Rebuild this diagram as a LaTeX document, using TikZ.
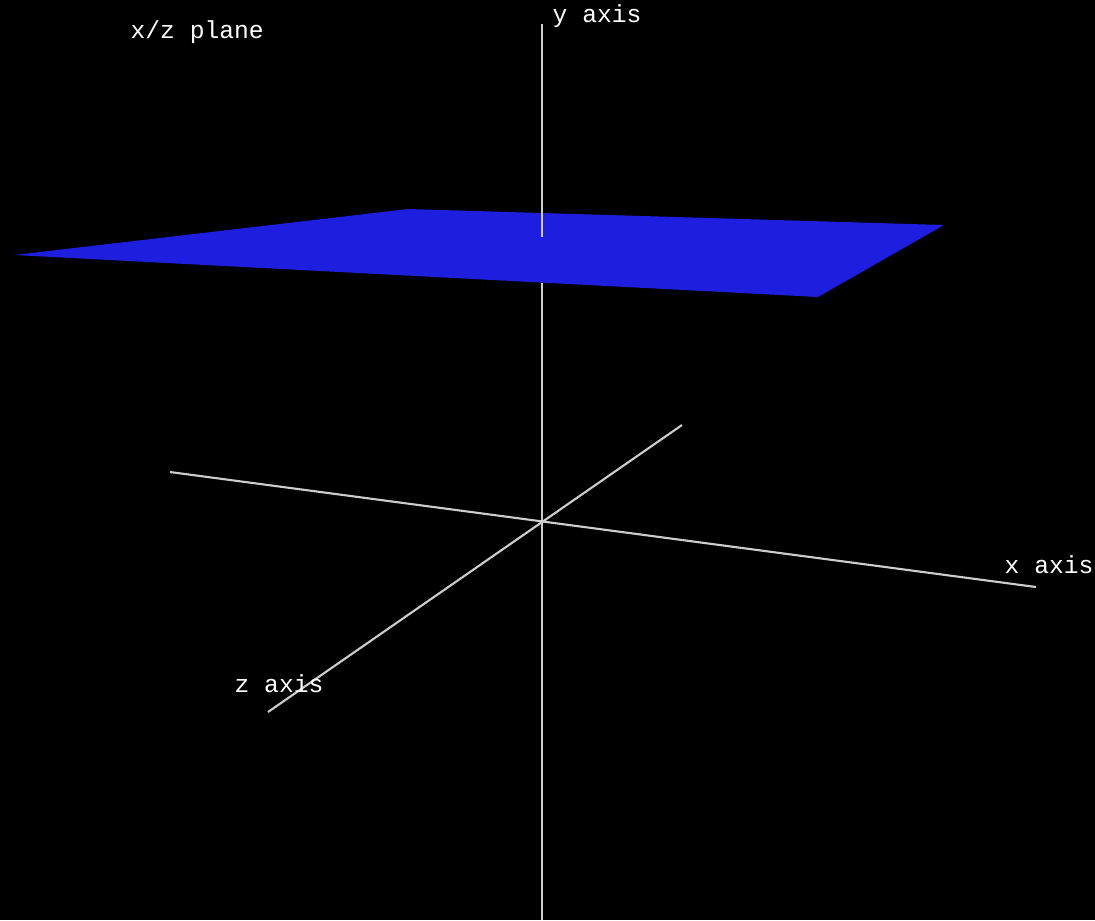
\documentclass[tikz,border=0pt]{standalone}
\usepackage{fontspec}
\newfontfamily\monofont{Liberation Mono}
\definecolor{planeblue}{RGB}{30,30,222}
\definecolor{axisgray}{RGB}{205,205,205}
\tikzset{
  axisline/.style={draw=axisgray, line width=0.6pt},
  lbl/.style={text=white, font=\monofont\fontsize{7}{8}\selectfont, anchor=base west, inner sep=0pt},
}
\begin{document}
\begin{tikzpicture}[x=0.01cm, y=-0.01cm]
\fill[black] (0,0) rectangle (1095,920);
\useasboundingbox (0,0) rectangle (1095,920);
% axes endpoints
\coordinate (ytop) at (542,24);
\coordinate (yin) at (542,237);
\coordinate (yout) at (542,283);
\coordinate (ybot) at (542,920);
\coordinate (xl) at (170,472);
\coordinate (xr) at (1036,587);
\coordinate (zb) at (682,425);
\coordinate (zf) at (268,712);
% plane
\coordinate (p1) at (14,255);
\coordinate (p2) at (408,209);
\coordinate (p3) at (944,225);
\coordinate (p4) at (818,297);
\fill[planeblue] (p1) -- (p2) -- (p3) -- (p4) -- cycle;
\draw[axisline] (ytop) -- (yin);
\draw[axisline] (yout) -- (ybot);
\draw[axisline] (xl) -- (xr);
\draw[axisline] (zb) -- (zf);
% labels
\node[lbl] (plane) at (130,38) {x/z plane};
\node[lbl] (ylab) at (552,22) {y axis};
\node[lbl] (xlab) at (1004,573) {x axis};
\node[lbl] (zlab) at (234,692) {z axis};
\end{tikzpicture}
\end{document}
